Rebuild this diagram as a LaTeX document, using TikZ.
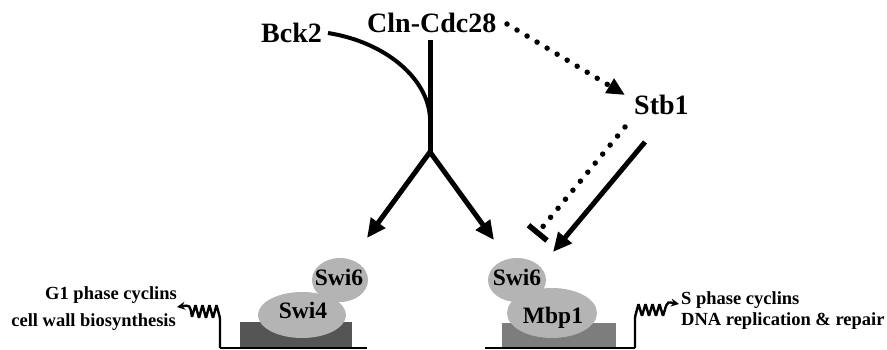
\documentclass[tikz,border=0pt]{standalone}
\usepackage{fontspec}
\setmainfont{Liberation Serif}
\usetikzlibrary{arrows.meta,shapes.geometric}
\definecolor{protein}{RGB}{180,180,180}
\definecolor{boxdark}{RGB}{85,85,85}
\definecolor{boxmid}{RGB}{125,125,125}

\begin{document}
\begin{tikzpicture}[x=1pt,y=-1pt,
  big/.style={font=\fontsize{28}{30}\selectfont\bfseries, inner sep=0pt},
  small/.style={font=\fontsize{18.5}{20}\selectfont\bfseries, inner sep=0pt},
  plabel/.style={font=\fontsize{23.5}{25}\selectfont\bfseries, inner sep=0pt},
  prot/.style={ellipse, fill=protein, inner sep=0pt},
  mainline/.style={line width=5pt},
  dotline/.style={line width=5.5pt, line cap=round, dash pattern=on 0pt off 11.7pt},
  headtip/.style={-{Triangle[length=19pt,width=17pt]}},
  gene/.style={line width=2.4pt, rounded corners=1.2pt},
  dna/.style={line width=2pt},
]
\useasboundingbox (0,0) rectangle (887,350);

% regulators
\node[big, anchor=base west] (bck2) at (261,43) {Bck2};
\node[big, anchor=base west] (cln) at (367,33) {Cln-Cdc28};
\node[big, anchor=base west] (stb1) at (634,115) {Stb1};

% connector end points
\coordinate (bckstart) at (328,33);
\coordinate (merge) at (430,118);
\coordinate (vtop) at (430,40);
\coordinate (branch) at (430,152);
\coordinate (tipL) at (367,238);
\coordinate (tipR) at (494,240);
\coordinate (dotA) at (507,24);
\coordinate (dotAend) at (625,95);
\coordinate (dotB) at (625,127);
\coordinate (dotBend) at (536,235);
\coordinate (stbA) at (645,142);
\coordinate (stbAend) at (553,252);

% DNA and promoter boxes
\fill[boxdark] (240,322) rectangle (352,348);
\fill[boxmid] (502,323) rectangle (616,348);
\draw[dna] (220,348) -- (367,348);
\draw[dna] (485,348) -- (635,348);

% SBF complex
\node[prot, minimum width=56pt, minimum height=44pt] (swi6a) at (340,280) {};
\node[prot, minimum width=88pt, minimum height=46pt] (swi4) at (302,315) {};
\node[plabel, anchor=base] (swi6atext) at (339,285) {Swi6};
\node[plabel, anchor=base] (swi4text) at (303,318) {Swi4};

% MBF complex
\node[prot, minimum width=58pt, minimum height=44pt] (swi6b) at (517,280) {};
\node[prot, minimum width=90pt, minimum height=50pt] (mbp1) at (552,313) {};
\node[plabel, anchor=base] (swi6btext) at (517,285) {Swi6};
\node[plabel, anchor=base] (mbp1text) at (553,323) {Mbp1};

% signalling connectors
\draw[line width=4pt] (bckstart) .. controls (385,42) and (428,78) .. (merge);
\draw[mainline] (vtop) -- (branch);
\draw[mainline, headtip, line join=round] (branch) -- (tipL);
\draw[mainline, headtip, line join=round] (branch) -- (tipR);
\draw[dotline, -{Triangle[length=18pt,width=16pt]}] (dotA) -- (dotAend);
\draw[dotline, -{Bar[width=24pt,line width=5.5pt]}] (dotB) -- (dotBend);
\draw[mainline, headtip] (stbA) -- (stbAend);

% transcripts
\coordinate (geneL) at (220,348);
\coordinate (geneLend) at (177,307);
\coordinate (geneR) at (635,348);
\coordinate (geneRend) at (679,304);
\draw[gene, -{Stealth[length=8pt,width=8pt]}] (geneL) -- (220,318) -- (216.5,305) -- (213,318)
  -- (209.5,305) -- (206,318) -- (202.5,305) -- (199,318) -- (195.5,305) -- (192,317)
  .. controls (190,305) .. (geneLend);
\draw[gene, -{Stealth[length=8pt,width=8pt]}] (geneR) -- (635,317) -- (638.5,304) -- (642,316)
  -- (645.5,304) -- (649,316) -- (652.5,304) -- (656,316) -- (659.5,304) -- (663,316)
  -- (666,306) .. controls (668,302) .. (geneRend);

% target gene classes
\node[small, anchor=base east] (g1a) at (177,299) {G1 phase cyclins};
\node[small, anchor=base east] (g1b) at (176,326) {cell wall biosynthesis};
\node[small, anchor=base west] (sa) at (681,304) {S phase cyclins};
\node[small, anchor=base west] (sb) at (681,325) {DNA replication \& repair};
\end{tikzpicture}
\end{document}
